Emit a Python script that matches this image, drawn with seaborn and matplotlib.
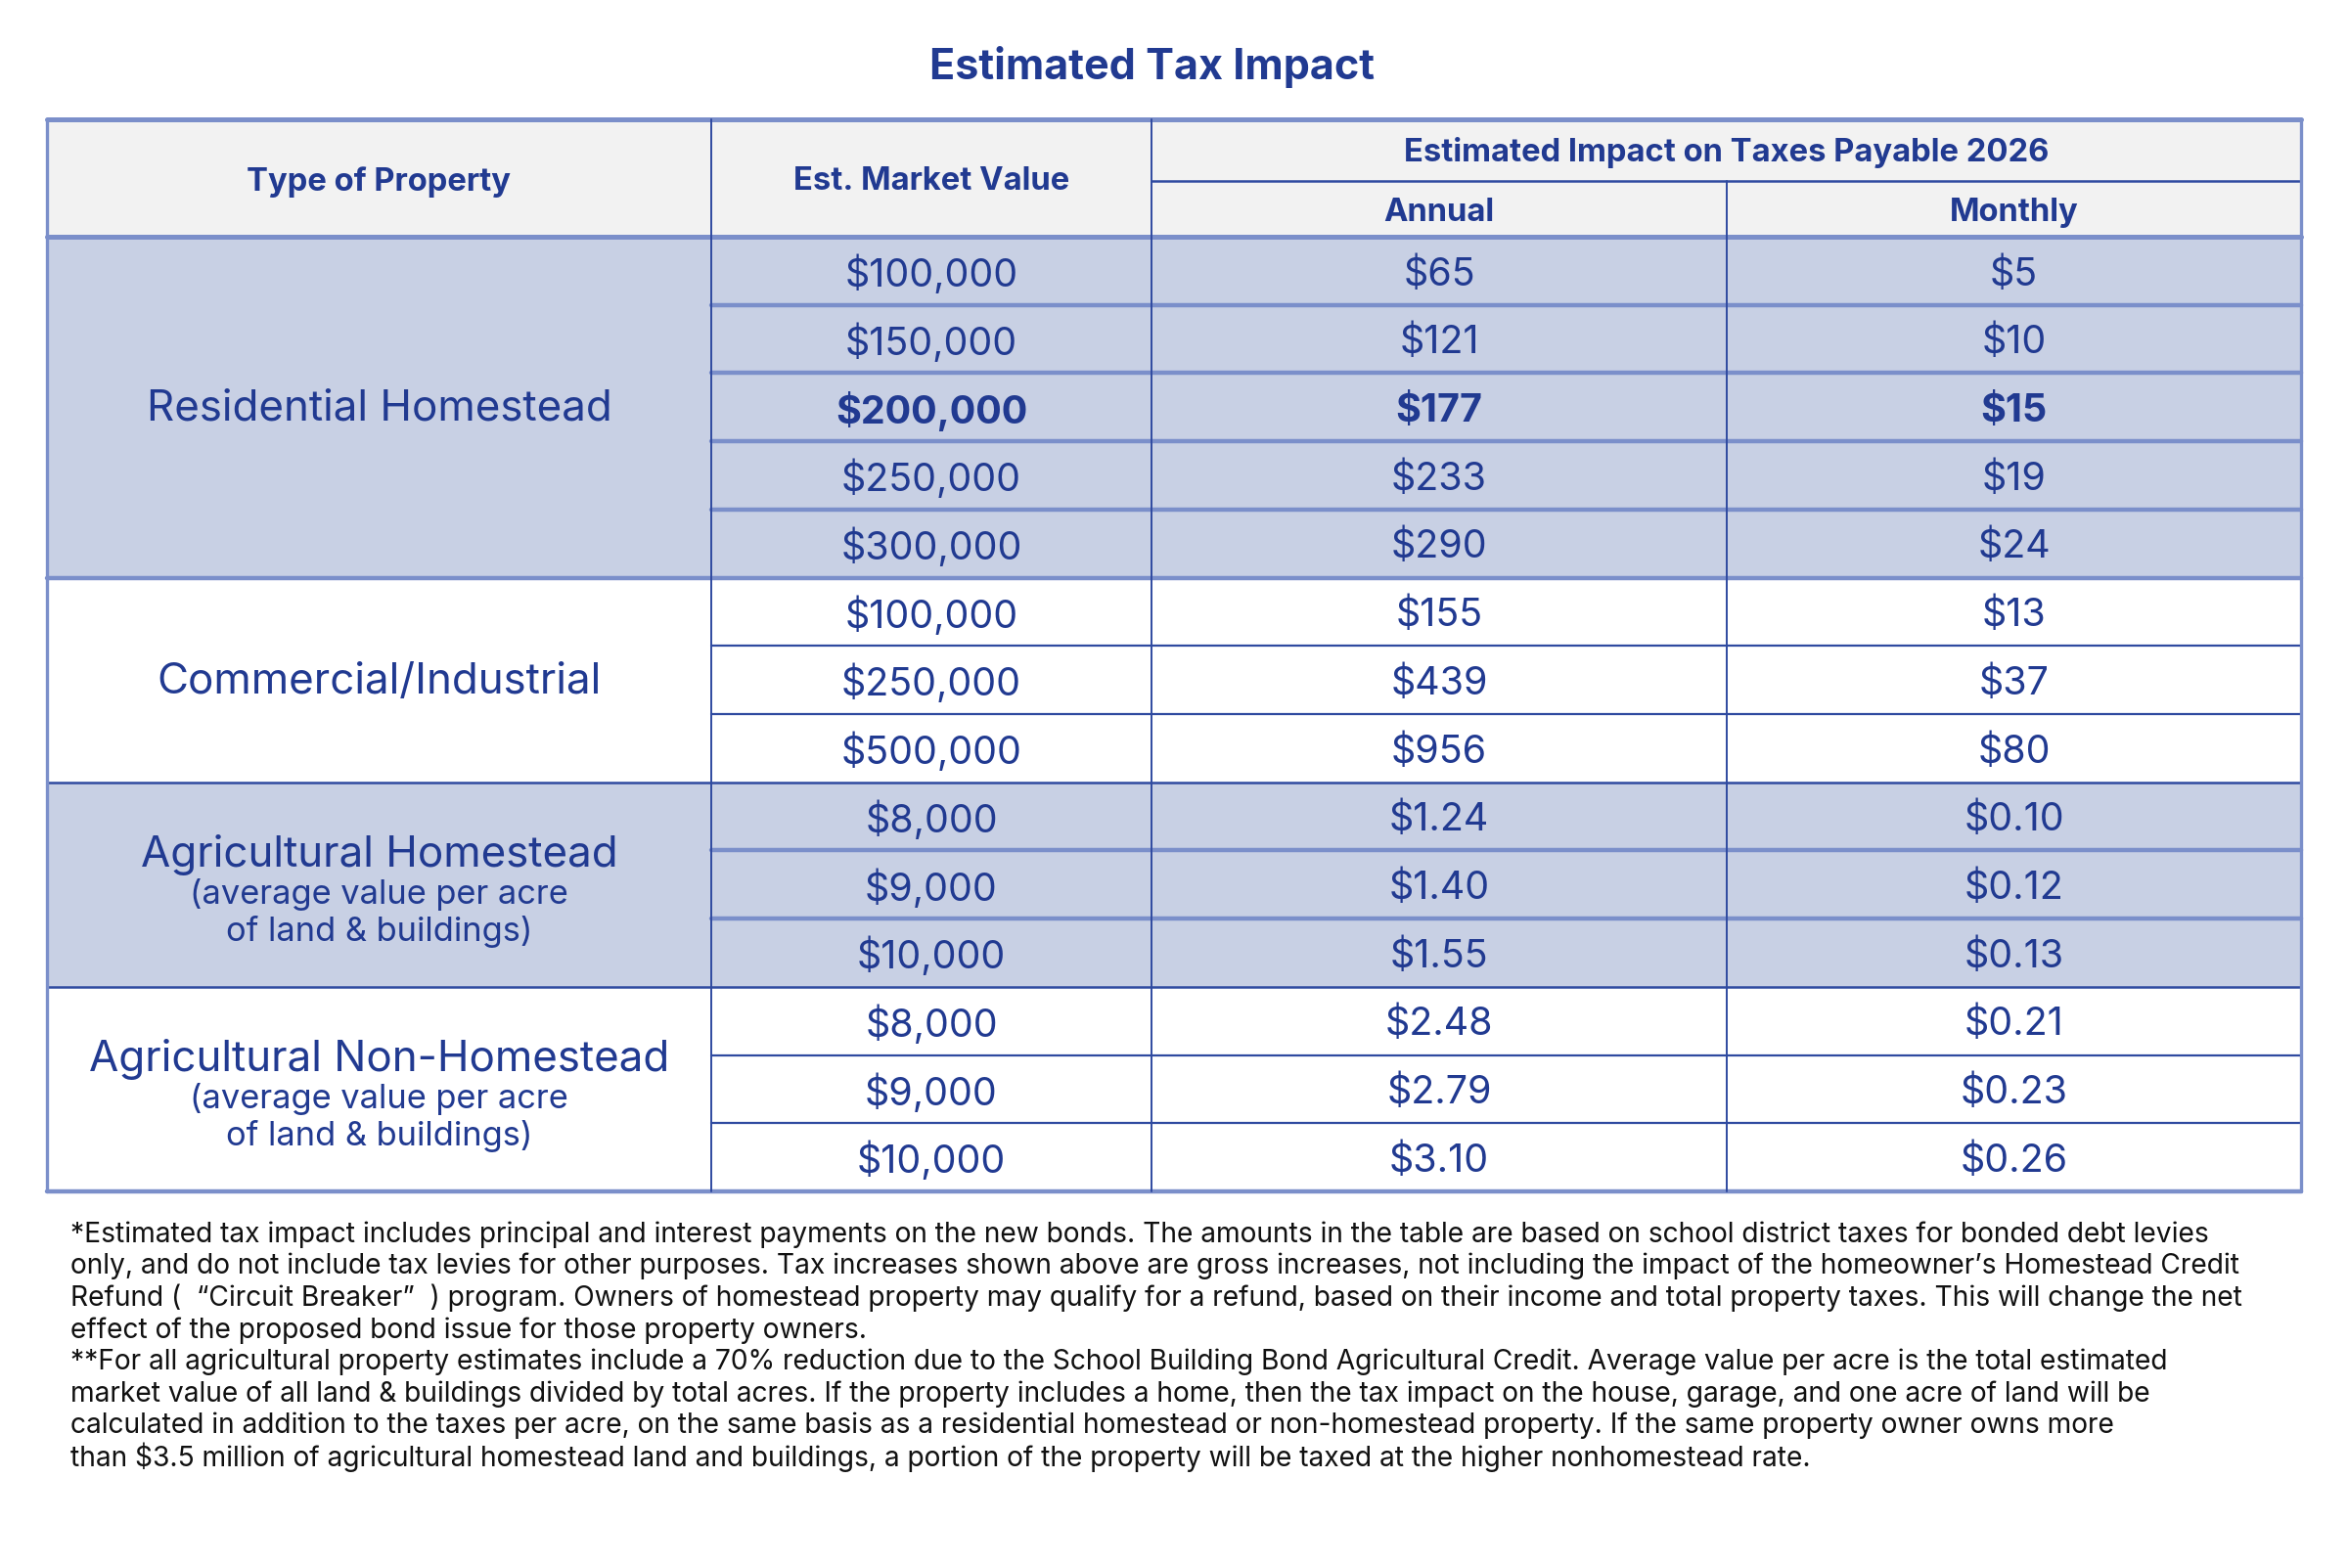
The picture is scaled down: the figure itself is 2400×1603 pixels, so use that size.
import matplotlib
matplotlib.use("Agg")
import matplotlib.pyplot as plt
from matplotlib.patches import Rectangle
import seaborn as sns

# ---- data ----
property_types = ["Residential Homestead", "Commercial/Industrial",
                  "Agricultural Homestead", "Agricultural Non-Homestead"]
property_notes = [[], [], ["(average value per acre", "of land & buildings)"],
                  ["(average value per acre", "of land & buildings)"]]
group_sizes = [5, 3, 3, 3]
group_shaded = [True, False, True, False]

market_values = ["$100,000", "$150,000", "$200,000", "$250,000", "$300,000",
                 "$100,000", "$250,000", "$500,000",
                 "$8,000", "$9,000", "$10,000",
                 "$8,000", "$9,000", "$10,000"]
annual_impact = ["$65", "$121", "$177", "$233", "$290",
                 "$155", "$439", "$956",
                 "$1.24", "$1.40", "$1.55",
                 "$2.48", "$2.79", "$3.10"]
monthly_impact = ["$5", "$10", "$15", "$19", "$24",
                  "$13", "$37", "$80",
                  "$0.10", "$0.12", "$0.13",
                  "$0.21", "$0.23", "$0.26"]
bold_rows = [2]

title = "Estimated Tax Impact"
col_headers = ["Type of Property", "Est. Market Value"]
span_header = "Estimated Impact on Taxes Payable 2026"
sub_headers = ["Annual", "Monthly"]

footnotes = [
    "*Estimated tax impact includes principal and interest payments on the new bonds. The amounts in the table are based on school district taxes for bonded debt levies",
    "only, and do not include tax levies for other purposes. Tax increases shown above are gross increases, not including the impact of the homeowner\u2019s Homestead Credit",
    "Refund (  \u201cCircuit Breaker\u201d  ) program. Owners of homestead property may qualify for a refund, based on their income and total property taxes. This will change the net",
    "effect of the proposed bond issue for those property owners.",
    "**For all agricultural property estimates include a 70% reduction due to the School Building Bond Agricultural Credit. Average value per acre is the total estimated",
    "market value of all land & buildings divided by total acres. If the property includes a home, then the tax impact on the house, garage, and one acre of land will be",
    "calculated in addition to the taxes per acre, on the same basis as a residential homestead or non-homestead property. If the same property owner owns more",
    "than $3.5 million of agricultural homestead land and buildings, a portion of the property will be taxed at the higher nonhomestead rate.",
]

# ---- style ----
sns.set_theme(style="white")
plt.rcParams["font.family"] = ["Inter", "DejaVu Sans"]

BLUE = "#213a91"
SHADE = "#c8d0e4"
HEAD_BG = "#f2f2f2"
LIGHT_LINE = "#7b8fca"
DARK_LINE = "#2f4aa0"

W, H = 2400, 1603
fig = plt.figure(figsize=(12, 8.015), dpi=200)
ax = fig.add_axes([0, 0, 1, 1])
ax.set_xlim(0, W)
ax.set_ylim(H, 0)
ax.axis("off")

# layout (pixels)
x_edges = [48, 727, 1177, 1765, 2352]
top, sub_y, head_bot = 122, 185, 242
row_h = (1218 - head_bot) / sum(group_sizes)
xc = [(x_edges[i] + x_edges[i + 1]) / 2 for i in range(4)]

ax.text(W / 2 - 22, 68, title, ha="center", va="center", fontsize=15.5,
        fontweight="bold", color=BLUE)

# header
ax.add_patch(Rectangle((x_edges[0], top), x_edges[-1] - x_edges[0], head_bot - top,
                       facecolor=HEAD_BG, edgecolor="none"))
hkw = dict(ha="center", va="center", fontsize=11.8, fontweight="bold", color=BLUE)
ax.text(xc[0], (top + head_bot) / 2 + 4, col_headers[0], **hkw)
ax.text(xc[1], (top + head_bot) / 2 + 4, col_headers[1], **hkw)
ax.text((x_edges[2] + x_edges[4]) / 2, (top + sub_y) / 2 + 2, span_header, **hkw)
ax.text(xc[2], (sub_y + head_bot) / 2 + 4, sub_headers[0], **hkw)
ax.text(xc[3], (sub_y + head_bot) / 2 + 4, sub_headers[1], **hkw)
ax.plot([x_edges[2], x_edges[4]], [sub_y, sub_y], color=DARK_LINE, lw=0.9)

# body
row = 0
for g, (ptype, note, n, shaded) in enumerate(zip(property_types, property_notes,
                                                 group_sizes, group_shaded)):
    y0 = head_bot + row * row_h
    y1 = y0 + n * row_h
    if shaded:
        ax.add_patch(Rectangle((x_edges[0], y0), x_edges[-1] - x_edges[0], y1 - y0,
                               facecolor=SHADE, edgecolor="none"))
    yc = (y0 + y1) / 2
    if note:
        ax.text(xc[0], yc - 30, ptype, ha="center", va="center", fontsize=15.8,
                color=BLUE)
        for j, sub in enumerate(note):
            ax.text(xc[0], yc + 10 + j * 38, sub, ha="center", va="center",
                    fontsize=12.4, color=BLUE)
    else:
        ax.text(xc[0], yc + 2, ptype, ha="center", va="center", fontsize=15.8,
                color=BLUE)
    line_c = LIGHT_LINE if shaded else DARK_LINE
    line_w = 1.6 if shaded else 0.8
    for k in range(n):
        ry0 = y0 + k * row_h
        ryc = ry0 + row_h / 2 + 4
        wt = "bold" if row in bold_rows else "normal"
        for col, vals in zip([1, 2, 3], [market_values, annual_impact, monthly_impact]):
            ax.text(xc[col], ryc, vals[row], ha="center", va="center", fontsize=14.2,
                    color=BLUE, fontweight=wt)
        if k > 0:
            ax.plot([x_edges[1], x_edges[-1]], [ry0, ry0], color=line_c, lw=line_w)
        row += 1
    edge = g in (0, len(group_sizes) - 1)
    ax.plot([x_edges[0], x_edges[-1]], [y1, y1],
            color=LIGHT_LINE if edge else DARK_LINE, lw=1.6 if edge else 0.9)

# outer / vertical lines
bottom = head_bot + sum(group_sizes) * row_h
ax.plot([x_edges[0], x_edges[-1]], [top, top], color=LIGHT_LINE, lw=1.8)
ax.plot([x_edges[0], x_edges[-1]], [head_bot, head_bot], color=LIGHT_LINE, lw=1.8)
for i, x in enumerate(x_edges):
    y_start = sub_y if i == 3 else top
    inner = 0 < i < 4
    ax.plot([x, x], [y_start, bottom], color=DARK_LINE if inner else LIGHT_LINE,
            lw=0.7 if inner else 1.2)

# footnotes
for i, line in enumerate(footnotes):
    ax.text(72, 1262 + i * 32.6, line, ha="left", va="center", fontsize=10.15,
            color="#111111")

fig.savefig("out.png", dpi=200, facecolor="white")
